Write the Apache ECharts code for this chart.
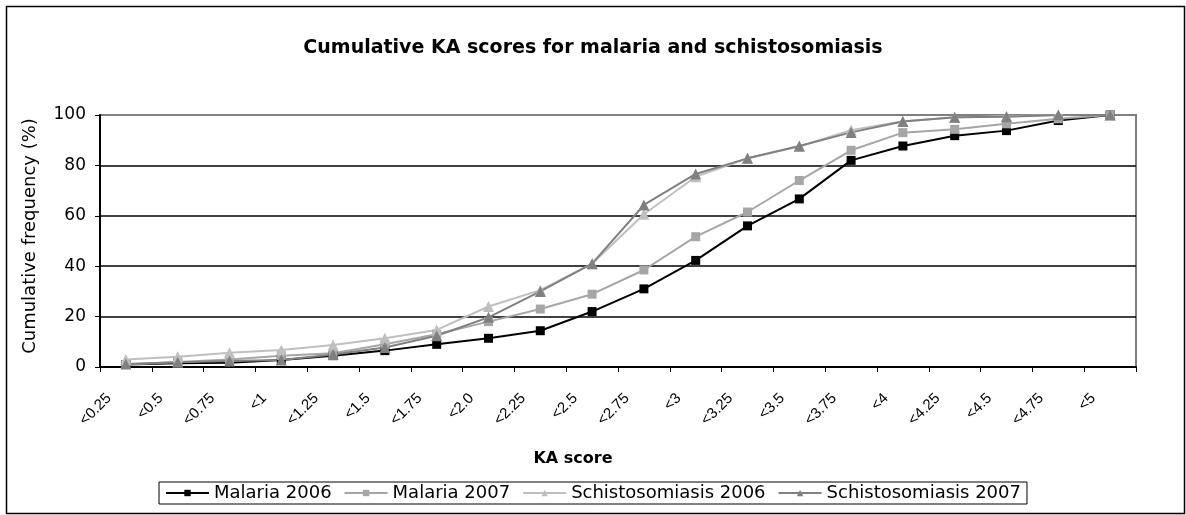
<!DOCTYPE html>
<html>
<head>
<meta charset="utf-8">
<script src="https://cdn.jsdelivr.net/npm/echarts@6/dist/echarts.min.js"></script>
<style>
html,body{margin:0;padding:0;background:#fff;}
#chart{width:1186px;height:515px;}
</style>
</head>
<body>
<div id="chart"></div>
<script>
var categories = ['<0.25','<0.5','<0.75','<1','<1.25','<1.5','<1.75','<2.0','<2.25','<2.5','<2.75','<3','<3.25','<3.5','<3.75','<4','<4.25','<4.5','<4.75','<5'];
var malaria2006 = [1, 1.5, 1.7, 2.8, 4.5, 6.5, 9, 11.4, 14.4, 22, 31, 42.3, 56, 66.7, 82, 87.7, 91.8, 93.8, 97.8, 100];
var malaria2007 = [1, 2, 3, 4.5, 5.5, 9, 13, 18, 23, 28.9, 38.5, 51.7, 61.5, 74, 86, 93, 94.3, 96.5, 98.5, 100];
var schisto2006 = [3, 4.1, 5.7, 6.7, 8.7, 11.4, 14.7, 24, 30.5, 41, 60.6, 75.5, 82.8, 87.5, 94, 97.5, 99, 99.5, 100, 100];
var schisto2007 = [1.2, 1.9, 2.4, 2.8, 5, 7.7, 12.4, 19.7, 30, 41, 64.3, 76.6, 82.8, 87.7, 93.1, 97.4, 99.1, 99.3, 100, 100];
var yTicks = [0, 20, 40, 60, 80, 100];

var FONT = 'DejaVu Sans';
var chart = echarts.init(document.getElementById('chart'), null, {renderer: 'canvas'});

function mk(name, data, color, symbol, size) {
  return {
    name: name, type: 'line', data: data,
    symbol: symbol, symbolSize: size,
    lineStyle: {color: color, width: 2},
    itemStyle: {color: color},
    animation: false
  };
}

chart.setOption({
  animation: false,
  backgroundColor: '#fff',
  title: {
    text: 'Cumulative KA scores for malaria and schistosomiasis',
    left: 'center', top: 34,
    textStyle: {fontFamily: FONT, fontWeight: 'bold', fontSize: 19, color: '#000'}
  },
  grid: {left: 100, right: 50, top: 115, bottom: 148, show: true, borderColor: '#808080', borderWidth: 2},
  legend: {
    data: ['Malaria 2006', 'Malaria 2007', 'Schistosomiasis 2006', 'Schistosomiasis 2007'],
    left: 'center', top: 482,
    borderColor: '#000', borderWidth: 1, padding: [2, 6, 2, 6],
    itemGap: 12, itemWidth: 43, itemHeight: 8,
    textStyle: {fontFamily: FONT, fontSize: 18, color: '#000'}
  },
  xAxis: {
    type: 'category', data: categories, boundaryGap: true,
    axisLine: {lineStyle: {color: '#000', width: 2}},
    axisTick: {show: true, length: 5, lineStyle: {color: '#000', width: 1}},
    axisLabel: {rotate: 45, fontFamily: 'Liberation Sans', fontSize: 15, color: '#000', margin: 12, interval: 0,
      padding: [0, 24, 0, 0]}
  },
  yAxis: {
    type: 'value', min: 0, max: 100, interval: 20,
    axisLine: {show: true, lineStyle: {color: '#000', width: 2}},
    axisTick: {show: true, length: 5, lineStyle: {color: '#000'}},
    axisLabel: {fontFamily: FONT, fontSize: 17, color: '#000', margin: 14,
      formatter: function (v) { return yTicks.indexOf(v) >= 0 ? String(v) : ''; }},
    splitLine: {show: true, lineStyle: {color: ['#000', '#000', '#000', '#000', '#000', '#808080'], width: 1.5}}
  },
  graphic: [
    {type: 'rect', left: 4, top: 4, shape: {width: 1178, height: 507}, style: {fill: 'none', stroke: '#000', lineWidth: 1.5}, z: -1},
    {type: 'text', x: 30, y: 236, rotation: Math.PI / 2,
      style: {text: 'Cumulative frequency (%)', fontFamily: FONT, fontSize: 18, fill: '#000', align: 'center', verticalAlign: 'middle'}},
    {type: 'text', x: 573, y: 459,
      style: {text: 'KA score', fontFamily: FONT, fontSize: 16, fontWeight: 'bold', fill: '#000', align: 'center', verticalAlign: 'middle'}}
  ],
  series: [
    mk('Malaria 2006', malaria2006, '#000000', 'rect', 9),
    mk('Malaria 2007', malaria2007, '#a6a6a6', 'rect', 9),
    mk('Schistosomiasis 2006', schisto2006, '#bfbfbf', 'triangle', 11),
    mk('Schistosomiasis 2007', schisto2007, '#808080', 'triangle', 11)
  ]
});
</script>
</body>
</html>
